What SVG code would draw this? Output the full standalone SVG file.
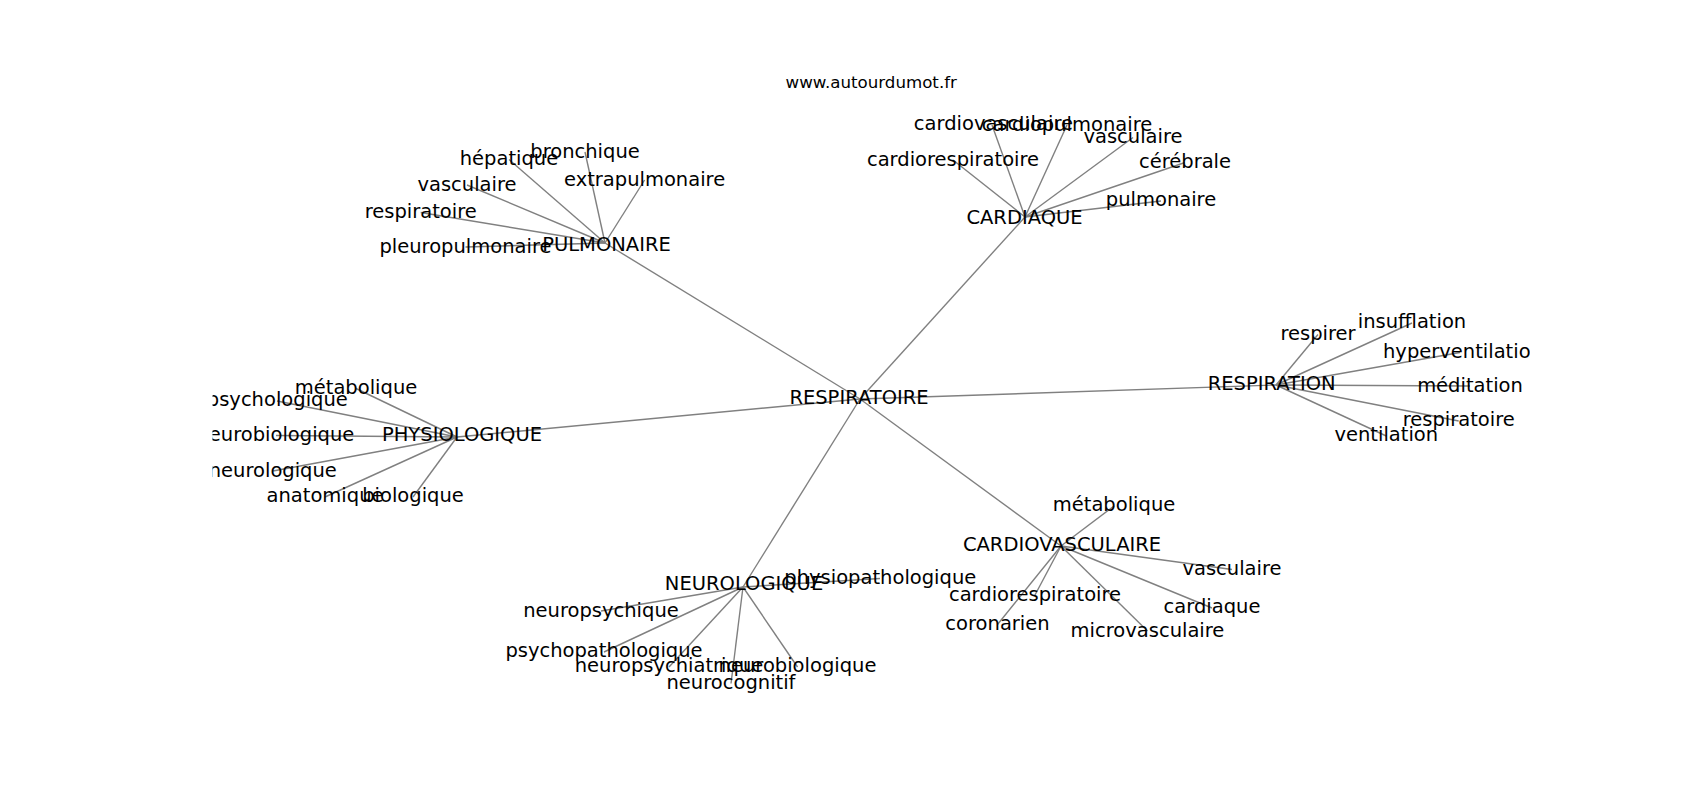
<svg xmlns="http://www.w3.org/2000/svg" width="1700" height="800" viewBox="0 0 1700 800">
<style>
.e{stroke:#808080;stroke-width:1.4;fill:none}
.n{font-family:"DejaVu Sans","Liberation Sans",sans-serif;font-size:19.5px;fill:#000;text-anchor:middle}
.t{font-family:"DejaVu Sans","Liberation Sans",sans-serif;font-size:16.67px;fill:#000;text-anchor:middle}
</style>
<defs><clipPath id="ax"><rect x="212.5" y="96" width="1317.5" height="616"/></clipPath></defs>
<rect width="1700" height="800" fill="#fff"/>
<text class="t" x="871.25" y="88.3">www.autourdumot.fr</text>
<g clip-path="url(#ax)">
<g id="edges">
<line class="e" x1="860" y1="399" x2="605" y2="243"/>
<line class="e" x1="860" y1="399" x2="1025" y2="217"/>
<line class="e" x1="860" y1="399" x2="1276" y2="385"/>
<line class="e" x1="860" y1="399" x2="457" y2="437"/>
<line class="e" x1="860" y1="399" x2="743" y2="587"/>
<line class="e" x1="860" y1="399" x2="1061" y2="546"/>
<line class="e" x1="605" y1="243" x2="585" y2="152"/>
<line class="e" x1="605" y1="243" x2="509" y2="159.5"/>
<line class="e" x1="605" y1="243" x2="644.6" y2="180"/>
<line class="e" x1="605" y1="243" x2="467" y2="185"/>
<line class="e" x1="605" y1="243" x2="420.7" y2="212.5"/>
<line class="e" x1="605" y1="243" x2="465.5" y2="247"/>
<line class="e" x1="1025" y1="217" x2="992" y2="125"/>
<line class="e" x1="1025" y1="217" x2="1067" y2="125"/>
<line class="e" x1="1025" y1="217" x2="1133" y2="137.5"/>
<line class="e" x1="1025" y1="217" x2="1185" y2="162.5"/>
<line class="e" x1="1025" y1="217" x2="1161" y2="201"/>
<line class="e" x1="1025" y1="217" x2="953" y2="160"/>
<line class="e" x1="1276" y1="385" x2="1318" y2="334.5"/>
<line class="e" x1="1276" y1="385" x2="1412" y2="323"/>
<line class="e" x1="1276" y1="385" x2="1460" y2="352.5"/>
<line class="e" x1="1276" y1="385" x2="1470" y2="386"/>
<line class="e" x1="1276" y1="385" x2="1458.7" y2="421"/>
<line class="e" x1="1276" y1="385" x2="1386.3" y2="436"/>
<line class="e" x1="457" y1="437" x2="356" y2="388.5"/>
<line class="e" x1="457" y1="437" x2="277" y2="401"/>
<line class="e" x1="457" y1="437" x2="276" y2="435.5"/>
<line class="e" x1="457" y1="437" x2="273" y2="471"/>
<line class="e" x1="457" y1="437" x2="325" y2="497"/>
<line class="e" x1="457" y1="437" x2="413" y2="497"/>
<line class="e" x1="743" y1="587" x2="880" y2="578.5"/>
<line class="e" x1="743" y1="587" x2="601" y2="611"/>
<line class="e" x1="743" y1="587" x2="604" y2="652"/>
<line class="e" x1="743" y1="587" x2="669" y2="667"/>
<line class="e" x1="743" y1="587" x2="797.5" y2="667"/>
<line class="e" x1="743" y1="587" x2="731" y2="683.5"/>
<line class="e" x1="1061" y1="546" x2="1114" y2="506"/>
<line class="e" x1="1061" y1="546" x2="1232" y2="569.5"/>
<line class="e" x1="1061" y1="546" x2="1212" y2="608"/>
<line class="e" x1="1061" y1="546" x2="1147.5" y2="631"/>
<line class="e" x1="1061" y1="546" x2="1035" y2="595"/>
<line class="e" x1="1061" y1="546" x2="997.5" y2="624.5"/>
</g>
<g transform="translate(0,0.7)">
<g id="node-respiratoire-center"><text class="n" x="859" y="403.3">RESPIRATOIRE</text></g>
<g id="node-pulmonaire"><text class="n" x="606.5" y="250">PULMONAIRE</text></g>
<g id="node-cardiaque"><text class="n" x="1024.5" y="223.3">CARDIAQUE</text></g>
<g id="node-respiration"><text class="n" x="1271.7" y="389.3">RESPIRATION</text></g>
<g id="node-physiologique"><text class="n" x="462" y="440.7">PHYSIOLOGIQUE</text></g>
<g id="node-neurologique"><text class="n" x="744" y="589.3">NEUROLOGIQUE</text></g>
<g id="node-cardiovasculaire"><text class="n" x="1062" y="550.7">CARDIOVASCULAIRE</text></g>
<g id="node-pul-bronchique"><text class="n" x="585" y="157.3">bronchique</text></g>
<g id="node-pul-hepatique"><text class="n" x="509" y="164.3">hépatique</text></g>
<g id="node-pul-extrapulmonaire"><text class="n" x="644.6" y="185">extrapulmonaire</text></g>
<g id="node-pul-vasculaire"><text class="n" x="467" y="190">vasculaire</text></g>
<g id="node-pul-respiratoire"><text class="n" x="420.7" y="217.3">respiratoire</text></g>
<g id="node-pul-pleuropulmonaire"><text class="n" x="465.5" y="252">pleuropulmonaire</text></g>
<g id="node-car-cardiovasculaire"><text class="n" x="993.4" y="129">cardiovasculaire</text></g>
<g id="node-car-cardiopulmonaire"><text class="n" x="1067" y="130">cardiopulmonaire</text></g>
<g id="node-car-vasculaire"><text class="n" x="1133" y="142.3">vasculaire</text></g>
<g id="node-car-cerebrale"><text class="n" x="1185" y="167.3">cérébrale</text></g>
<g id="node-car-pulmonaire"><text class="n" x="1161" y="205.7">pulmonaire</text></g>
<g id="node-car-cardiorespiratoire"><text class="n" x="953" y="165">cardiorespiratoire</text></g>
<g id="node-res-respirer"><text class="n" x="1318" y="339.3">respirer</text></g>
<g id="node-res-insufflation"><text class="n" x="1412" y="327.7">insufflation</text></g>
<g id="node-res-hyperventilation"><text class="n" x="1463" y="357.3">hyperventilation</text></g>
<g id="node-res-meditation"><text class="n" x="1470" y="391">méditation</text></g>
<g id="node-res-respiratoire"><text class="n" x="1458.7" y="425.7">respiratoire</text></g>
<g id="node-res-ventilation"><text class="n" x="1386.3" y="440.7">ventilation</text></g>
<g id="node-phy-metabolique"><text class="n" x="356" y="393.3">métabolique</text></g>
<g id="node-phy-psychologique"><text class="n" x="277.3" y="405.7">psychologique</text></g>
<g id="node-phy-neurobiologique"><text class="n" x="275.4" y="440.5">neurobiologique</text></g>
<g id="node-phy-neurologique"><text class="n" x="272.8" y="476">neurologique</text></g>
<g id="node-phy-anatomique"><text class="n" x="325" y="501.7">anatomique</text></g>
<g id="node-phy-biologique"><text class="n" x="413" y="501.7">biologique</text></g>
<g id="node-neu-physiopathologique"><text class="n" x="880.3" y="583.3">physiopathologique</text></g>
<g id="node-neu-neuropsychique"><text class="n" x="601" y="616">neuropsychique</text></g>
<g id="node-neu-psychopathologique"><text class="n" x="604" y="656.7">psychopathologique</text></g>
<g id="node-neu-neuropsychiatrique"><text class="n" x="669" y="671.7">neuropsychiatrique</text></g>
<g id="node-neu-neurobiologique"><text class="n" x="797.5" y="671.7">neurobiologique</text></g>
<g id="node-neu-neurocognitif"><text class="n" x="731" y="688.3">neurocognitif</text></g>
<g id="node-cv-metabolique"><text class="n" x="1114" y="510.7">métabolique</text></g>
<g id="node-cv-vasculaire"><text class="n" x="1232" y="574.3">vasculaire</text></g>
<g id="node-cv-cardiaque"><text class="n" x="1212" y="612.7">cardiaque</text></g>
<g id="node-cv-microvasculaire"><text class="n" x="1147.5" y="636">microvasculaire</text></g>
<g id="node-cv-cardiorespiratoire"><text class="n" x="1035" y="600">cardiorespiratoire</text></g>
<g id="node-cv-coronarien"><text class="n" x="997.5" y="629.3">coronarien</text></g>
</g>
</g>
</svg>
